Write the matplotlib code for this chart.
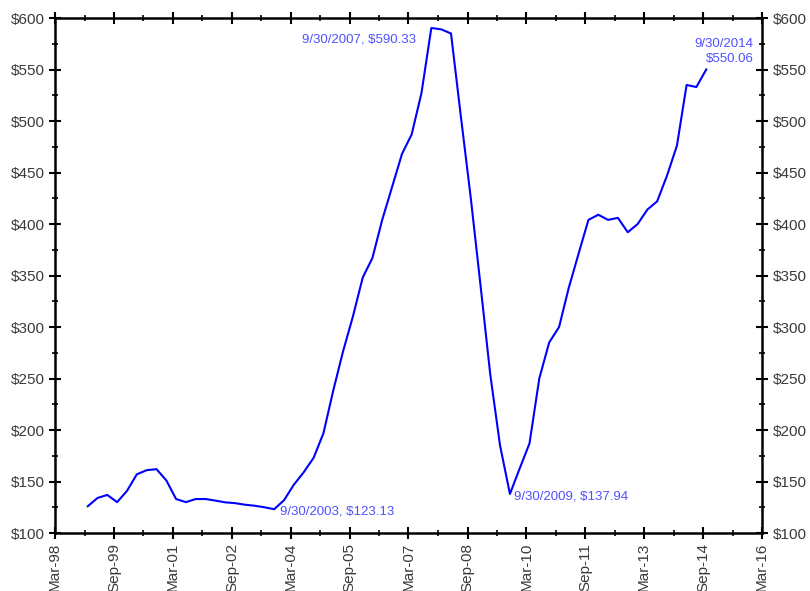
import numpy as np
import pandas as pd
import matplotlib
matplotlib.use('Agg')
import matplotlib.pyplot as plt
import matplotlib.dates as mdates
from matplotlib.ticker import MultipleLocator, FuncFormatter

plt.rcParams['font.family'] = ['Liberation Sans', 'DejaVu Sans']

# quarterly values, 12/31/1998 .. 9/30/2014
dates = pd.date_range('1998-12-31', '2014-09-30', freq='QE')
values = [126, 134, 137, 130, 141, 157, 161, 162, 151, 133,
          130, 133, 133, 131.5, 129.8, 129, 127.5, 126.5, 125, 123.13,
          132, 147, 159, 173, 197, 238, 276, 310, 348, 367,
          404, 436, 468, 487, 527, 590.33, 589, 585, 505, 426,
          340, 254, 185, 137.94, 163, 187, 250, 285, 300, 338,
          371, 404, 409, 404, 406, 392, 400, 414, 422, 447,
          476, 535, 533, 550.06]

notes = [('9/30/2007, $590.33', '2007-09-30', 590.33),
         ('9/30/2003, $123.13', '2003-09-30', 123.13),
         ('9/30/2009, $137.94', '2009-09-30', 137.94),
         ('9/30/2014\n$550.06', '2014-09-30', 550.06)]

tick_dates = pd.date_range('1998-03-01', '2016-03-01', freq='18MS')
minor_dates = pd.date_range('1998-03-01', '2016-03-01', freq='9MS')

fig = plt.figure(figsize=(8.1, 5.91), dpi=100)
ax = fig.add_axes([0.0679, 0.0981, 0.8728, 0.8714])

ax.plot(dates, values, color='#0000ff', lw=1.5)

ax.set_xlim(tick_dates[0], tick_dates[-1])
ax.set_ylim(100, 600)

ax.set_xticks(tick_dates)
ax.set_xticks(minor_dates, minor=True)
ax.xaxis.set_major_formatter(mdates.DateFormatter('%b-%y'))
ax.yaxis.set_major_locator(MultipleLocator(50))
ax.yaxis.set_minor_locator(MultipleLocator(25))
ax.yaxis.set_major_formatter(FuncFormatter(lambda v, p: '${:.0f}'.format(v)))

txt = '#3a3a3a'
ax.tick_params(axis='both', which='major', direction='inout', length=8, width=1.5,
               labelsize=11, labelcolor=txt, top=True, right=True, labelright=True)
ax.tick_params(axis='both', which='minor', direction='inout', length=5, width=1.2,
               top=True, right=True)
ax.tick_params(axis='x', which='major', labelrotation=90, pad=3)
for s in ax.spines.values():
    s.set_linewidth(1.8)

ncol = '#5050ff'
ax.annotate(notes[0][0], (pd.Timestamp(notes[0][1]), notes[0][2]), xytext=(-11, -8),
            textcoords='offset points', ha='right', va='center', color=ncol, fontsize=9.5)
ax.annotate(notes[1][0], (pd.Timestamp(notes[1][1]), notes[1][2]), xytext=(4, -2),
            textcoords='offset points', ha='left', va='center', color=ncol, fontsize=9.5)
ax.annotate(notes[2][0], (pd.Timestamp(notes[2][1]), notes[2][2]), xytext=(3, -2),
            textcoords='offset points', ha='left', va='center', color=ncol, fontsize=9.5)
ax.annotate(notes[3][0], (pd.Timestamp(notes[3][1]), notes[3][2]), xytext=(34, 13),
            textcoords='offset points', ha='right', va='center', color=ncol, fontsize=9.5,
            linespacing=1.4)

fig.savefig('out.png', dpi=100)
